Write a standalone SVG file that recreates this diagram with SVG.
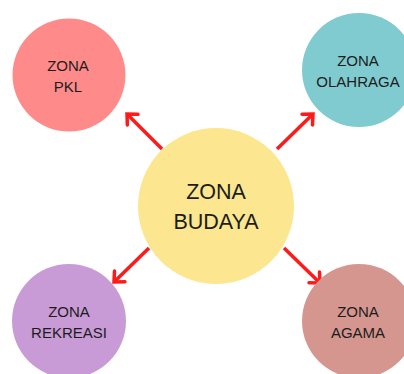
<svg xmlns="http://www.w3.org/2000/svg" width="404" height="374" viewBox="0 0 404 374">
<defs>
<style>
.lbl{font-family:"Liberation Sans",Arial,sans-serif;font-size:15px;fill:#1c1c1c;text-anchor:middle}
.big{font-size:21.5px}
.con{stroke:#FF1A1A;stroke-width:3.5;fill:none}
</style>
<marker id="ah" markerUnits="userSpaceOnUse" viewBox="-12 -10 14 20" refX="0" refY="0" markerWidth="14" markerHeight="20" orient="auto" overflow="visible">
<path d="M-8,-7.5 L0,0 L-8,7.5" fill="none" stroke="#FF1A1A" stroke-width="3.5" stroke-linecap="round" stroke-linejoin="miter"/>
</marker>
</defs>
<rect width="404" height="374" fill="#ffffff"/>
<g id="connectors">
<line class="con" x1="162" y1="149" x2="127" y2="114" marker-end="url(#ah)"/>
<line class="con" x1="277" y1="149" x2="313" y2="114" marker-end="url(#ah)"/>
<line class="con" x1="149" y1="248" x2="114" y2="282" marker-end="url(#ah)"/>
<line class="con" x1="284" y1="248" x2="320" y2="283" marker-end="url(#ah)"/>
</g>
<g id="budaya">
<circle cx="216" cy="206" r="78" fill="#FCE68F"/>
<text class="lbl big" x="216" y="199">ZONA</text>
<text class="lbl big" x="216" y="229">BUDAYA</text>
</g>
<g id="pkl">
<circle cx="69" cy="75" r="56.5" fill="#FF8A8A"/>
<text class="lbl" x="68" y="71">ZONA</text>
<text class="lbl" x="68" y="92">PKL</text>
</g>
<g id="olahraga">
<circle cx="359" cy="70" r="57" fill="#80CBCF"/>
<text class="lbl" x="358" y="66">ZONA</text>
<text class="lbl" x="358" y="87">OLAHRAGA</text>
</g>
<g id="rekreasi">
<circle cx="69" cy="321" r="57" fill="#C89BD6"/>
<text class="lbl" x="69" y="317">ZONA</text>
<text class="lbl" x="69" y="338">REKREASI</text>
</g>
<g id="agama">
<circle cx="359" cy="321" r="57" fill="#D5968F"/>
<text class="lbl" x="358" y="317">ZONA</text>
<text class="lbl" x="358" y="338">AGAMA</text>
</g>
</svg>
